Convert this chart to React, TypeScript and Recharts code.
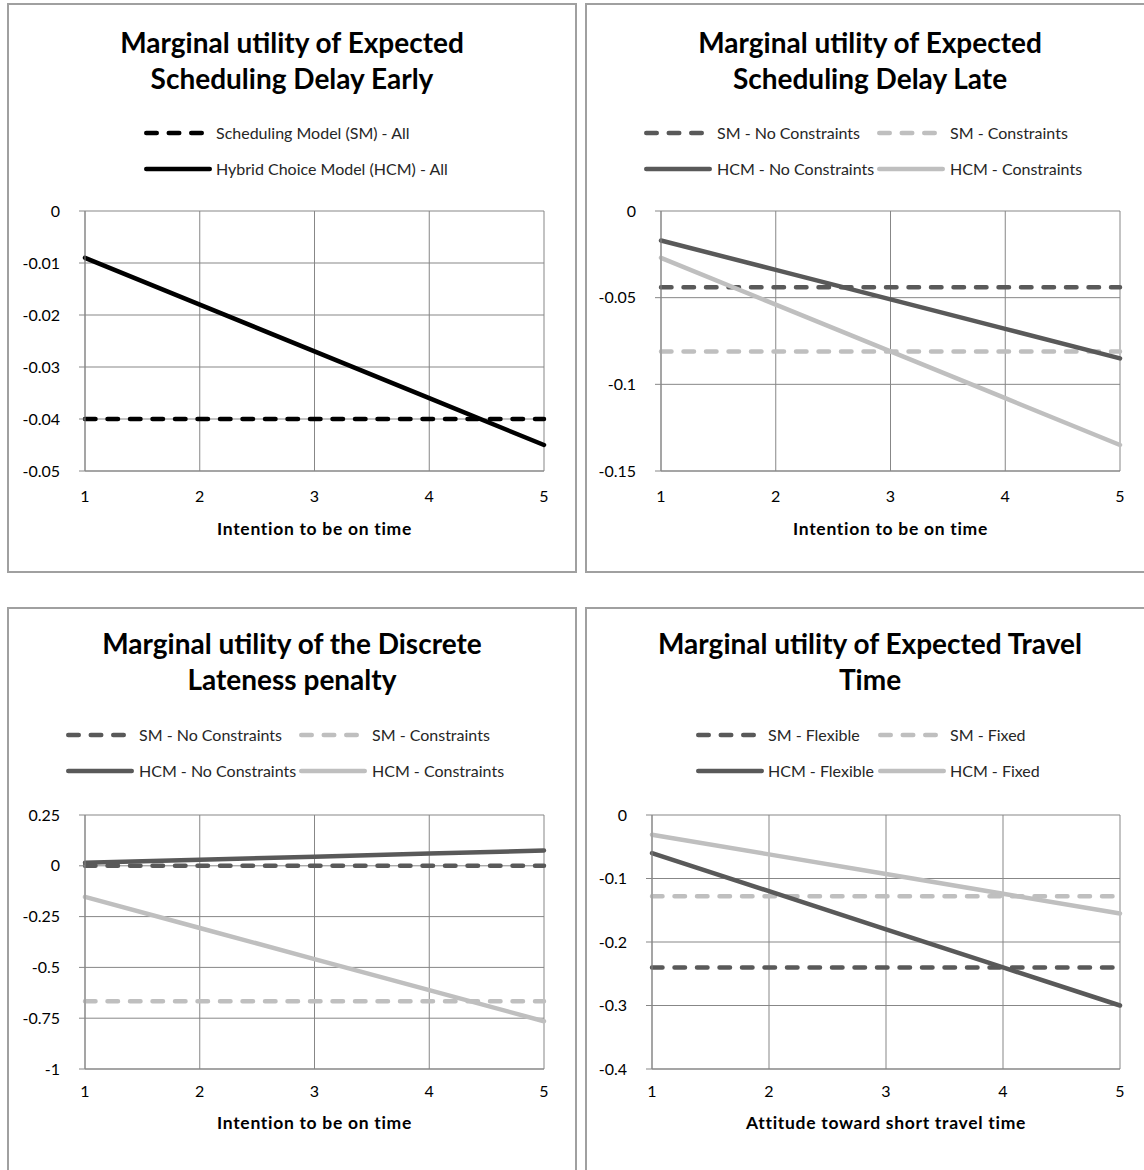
import React from 'react'
import { LineChart, Line, XAxis, YAxis, CartesianGrid } from 'recharts'

const FONT = "Lato, 'Open Sans', sans-serif"
const GRID = '#878787'
const DARK = '#595959'
const LIGHT = '#bfbfbf'
const BLACK = '#000000'
const DASH = '10.5 12'

// x values shared by all four charts
const xValues = [1, 2, 3, 4, 5]

// Expected Scheduling Delay Early
const earlySM = [-0.04, -0.04, -0.04, -0.04, -0.04]
const earlyHCM = [-0.009, -0.018, -0.027, -0.036, -0.045]
const earlyTicks = [0, -0.01, -0.02, -0.03, -0.04, -0.05]

// Expected Scheduling Delay Late
const lateSMNoCon = [-0.044, -0.044, -0.044, -0.044, -0.044]
const lateSMCon = [-0.081, -0.081, -0.081, -0.081, -0.081]
const lateHCMNoCon = [-0.017, -0.034, -0.051, -0.068, -0.085]
const lateHCMCon = [-0.027, -0.054, -0.081, -0.108, -0.135]
const lateTicks = [0, -0.05, -0.1, -0.15]

// Discrete Lateness penalty
const penSMNoCon = [0, 0, 0, 0, 0]
const penSMCon = [-0.667, -0.667, -0.667, -0.667, -0.667]
const penHCMNoCon = [0.015, 0.03, 0.045, 0.06, 0.075]
const penHCMCon = [-0.153, -0.306, -0.459, -0.612, -0.765]
const penTicks = [0.25, 0, -0.25, -0.5, -0.75, -1]

// Expected Travel Time
const ttSMFlex = [-0.24, -0.24, -0.24, -0.24, -0.24]
const ttSMFixed = [-0.128, -0.128, -0.128, -0.128, -0.128]
const ttHCMFlex = [-0.06, -0.12, -0.18, -0.24, -0.3]
const ttHCMFixed = [-0.031, -0.062, -0.093, -0.124, -0.155]
const ttTicks = [0, -0.1, -0.2, -0.3, -0.4]

interface SeriesDef {
  key: string
  name: string
  values: number[]
  color: string
  dashed: boolean
}

interface LegendItem {
  series: number
  row: number
  sampleX: number
  textX: number
}

interface PanelCfg {
  left: number
  top: number
  titleTop: number
  title: string[]
  series: SeriesDef[]
  legend: LegendItem[]
  legendRows: number[]
  ticks: number[]
  plot: { left: number; right: number; top: number; bottom: number }
  xTickMargin: number
  xLabel: string
  xLabelY: number
}

const panels: PanelCfg[] = [
  {
    left: 7,
    top: 3,
    titleTop: 19,
    title: ['Marginal utility of Expected', 'Scheduling Delay Early'],
    series: [
      { key: 'sm', name: 'Scheduling Model (SM) - All', values: earlySM, color: BLACK, dashed: true },
      { key: 'hcm', name: 'Hybrid Choice Model (HCM) - All', values: earlyHCM, color: BLACK, dashed: false },
    ],
    legendRows: [128, 164],
    legend: [
      { series: 0, row: 0, sampleX: 135, textX: 207 },
      { series: 1, row: 1, sampleX: 135, textX: 207 },
    ],
    ticks: earlyTicks,
    plot: { left: 76, right: 535, top: 206, bottom: 466 },
    xTickMargin: 14,
    xLabel: 'Intention to be on time',
    xLabelY: 524,
  },
  {
    left: 585,
    top: 3,
    titleTop: 19,
    title: ['Marginal utility of Expected', 'Scheduling Delay Late'],
    series: [
      { key: 'smn', name: 'SM - No Constraints', values: lateSMNoCon, color: DARK, dashed: true },
      { key: 'smc', name: 'SM - Constraints', values: lateSMCon, color: LIGHT, dashed: true },
      { key: 'hcmn', name: 'HCM - No Constraints', values: lateHCMNoCon, color: DARK, dashed: false },
      { key: 'hcmc', name: 'HCM - Constraints', values: lateHCMCon, color: LIGHT, dashed: false },
    ],
    legendRows: [128, 164],
    legend: [
      { series: 0, row: 0, sampleX: 57, textX: 130 },
      { series: 1, row: 0, sampleX: 290, textX: 363 },
      { series: 2, row: 1, sampleX: 57, textX: 130 },
      { series: 3, row: 1, sampleX: 290, textX: 363 },
    ],
    ticks: lateTicks,
    plot: { left: 74, right: 533, top: 206, bottom: 466 },
    xTickMargin: 14,
    xLabel: 'Intention to be on time',
    xLabelY: 524,
  },
  {
    left: 7,
    top: 607,
    titleTop: 16,
    title: ['Marginal utility of the Discrete', 'Lateness penalty'],
    series: [
      { key: 'smn', name: 'SM - No Constraints', values: penSMNoCon, color: DARK, dashed: true },
      { key: 'smc', name: 'SM - Constraints', values: penSMCon, color: LIGHT, dashed: true },
      { key: 'hcmn', name: 'HCM - No Constraints', values: penHCMNoCon, color: DARK, dashed: false },
      { key: 'hcmc', name: 'HCM - Constraints', values: penHCMCon, color: LIGHT, dashed: false },
    ],
    legendRows: [126, 162],
    legend: [
      { series: 0, row: 0, sampleX: 57, textX: 130 },
      { series: 1, row: 0, sampleX: 290, textX: 363 },
      { series: 2, row: 1, sampleX: 57, textX: 130 },
      { series: 3, row: 1, sampleX: 290, textX: 363 },
    ],
    ticks: penTicks,
    plot: { left: 76, right: 535, top: 206, bottom: 460 },
    xTickMargin: 11,
    xLabel: 'Intention to be on time',
    xLabelY: 514,
  },
  {
    left: 585,
    top: 607,
    titleTop: 16,
    title: ['Marginal utility of Expected Travel', 'Time'],
    series: [
      { key: 'smf', name: 'SM - Flexible', values: ttSMFlex, color: DARK, dashed: true },
      { key: 'smx', name: 'SM - Fixed', values: ttSMFixed, color: LIGHT, dashed: true },
      { key: 'hcmf', name: 'HCM - Flexible', values: ttHCMFlex, color: DARK, dashed: false },
      { key: 'hcmx', name: 'HCM - Fixed', values: ttHCMFixed, color: LIGHT, dashed: false },
    ],
    legendRows: [126, 162],
    legend: [
      { series: 0, row: 0, sampleX: 109, textX: 181 },
      { series: 1, row: 0, sampleX: 291, textX: 363 },
      { series: 2, row: 1, sampleX: 109, textX: 181 },
      { series: 3, row: 1, sampleX: 291, textX: 363 },
    ],
    ticks: ttTicks,
    plot: { left: 65, right: 533, top: 206, bottom: 460 },
    xTickMargin: 11,
    xLabel: 'Attitude toward short travel time',
    xLabelY: 514,
  },
]

const INNER_W = 566
const CHART_H = 540
const Y_AXIS_W = 70
const X_AXIS_H = 30
const TICK_STYLE = { fill: '#000', fontSize: 16, fontFamily: FONT }

function LegendSample({ color, dashed }: { color: string; dashed: boolean }) {
  const w = dashed ? 62 : 68
  return (
    <svg width={w} height={10} style={{ position: 'absolute', left: 0, top: -5 }}>
      <line
        x1={2.25}
        y1={5}
        x2={w - 2.25}
        y2={5}
        stroke={color}
        strokeWidth={4.5}
        strokeLinecap="round"
        strokeDasharray={dashed ? DASH : undefined}
      />
    </svg>
  )
}

function Panel({ cfg }: { cfg: PanelCfg }) {
  const data = xValues.map((x, i) => {
    const row: Record<string, number> = { x }
    cfg.series.forEach((s) => {
      row[s.key] = s.values[i]
    })
    return row
  })
  const ticks = cfg.ticks
  const domain: [number, number] = [Math.min(...ticks), Math.max(...ticks)]
  const plotCenter = (cfg.plot.left + cfg.plot.right) / 2

  return (
    <div
      style={{
        position: 'absolute',
        left: cfg.left,
        top: cfg.top,
        width: INNER_W,
        height: 566,
        border: '2px solid #a0a0a0',
        background: '#fff',
      }}
    >
      <div
        style={{
          position: 'absolute',
          left: 0,
          top: cfg.titleTop,
          width: INNER_W,
          textAlign: 'center',
          fontSize: 28,
          fontWeight: 'bold',
          lineHeight: '36px',
          color: '#000',
        }}
      >
        {cfg.title.map((t) => (
          <div key={t}>{t}</div>
        ))}
      </div>

      {cfg.legend.map((item) => {
        const s = cfg.series[item.series]
        const y = cfg.legendRows[item.row]
        return (
          <div key={s.key}>
            <div style={{ position: 'absolute', left: item.sampleX, top: y }}>
              <LegendSample color={s.color} dashed={s.dashed} />
            </div>
            <div
              style={{
                position: 'absolute',
                left: item.textX,
                top: y - 11,
                fontSize: 16,
                lineHeight: '22px',
                color: '#262626',
                whiteSpace: 'nowrap',
              }}
            >
              {s.name}
            </div>
          </div>
        )
      })}

      <div style={{ position: 'absolute', left: 0, top: 0 }}>
        <LineChart
          width={INNER_W}
          height={CHART_H}
          data={data}
          margin={{
            top: cfg.plot.top,
            right: INNER_W - cfg.plot.right,
            left: cfg.plot.left - Y_AXIS_W,
            bottom: CHART_H - cfg.plot.bottom - X_AXIS_H,
          }}
        >
          <CartesianGrid stroke={GRID} strokeWidth={1} />
          <XAxis
            dataKey="x"
            type="number"
            domain={[1, 5]}
            ticks={xValues}
            height={X_AXIS_H}
            tickLine={false}
            tickSize={6}
            tickMargin={cfg.xTickMargin}
            axisLine={{ stroke: GRID }}
            fontSize={16}
            tick={TICK_STYLE}
          />
          <YAxis
            type="number"
            domain={domain}
            ticks={ticks}
            width={Y_AXIS_W}
            interval={0}
            tickSize={6}
            tickMargin={19}
            tickLine={{ stroke: GRID }}
            axisLine={{ stroke: GRID }}
            fontSize={16}
            tick={TICK_STYLE}
          />
          {cfg.series.map((s) => (
            <Line
              key={s.key}
              type="linear"
              dataKey={s.key}
              name={s.name}
              stroke={s.color}
              strokeWidth={4.5}
              strokeLinecap="round"
              strokeDasharray={s.dashed ? DASH : undefined}
              dot={false}
              activeDot={false}
              isAnimationActive={false}
            />
          ))}
        </LineChart>
      </div>

      <div
        style={{
          position: 'absolute',
          left: plotCenter - 200,
          top: cfg.xLabelY - 11,
          width: 400,
          textAlign: 'center',
          fontSize: 17.5,
          fontWeight: 'bold',
          letterSpacing: 0.7,
          lineHeight: '22px',
          color: '#000',
        }}
      >
        {cfg.xLabel}
      </div>
    </div>
  )
}

export default function App() {
  return (
    <div
      style={{
        position: 'absolute',
        left: 0,
        top: 0,
        width: 1144,
        height: 1170,
        overflow: 'hidden',
        background: '#fff',
        fontFamily: FONT,
      }}
    >
      {panels.map((p, i) => (
        <Panel key={i} cfg={p} />
      ))}
    </div>
  )
}
